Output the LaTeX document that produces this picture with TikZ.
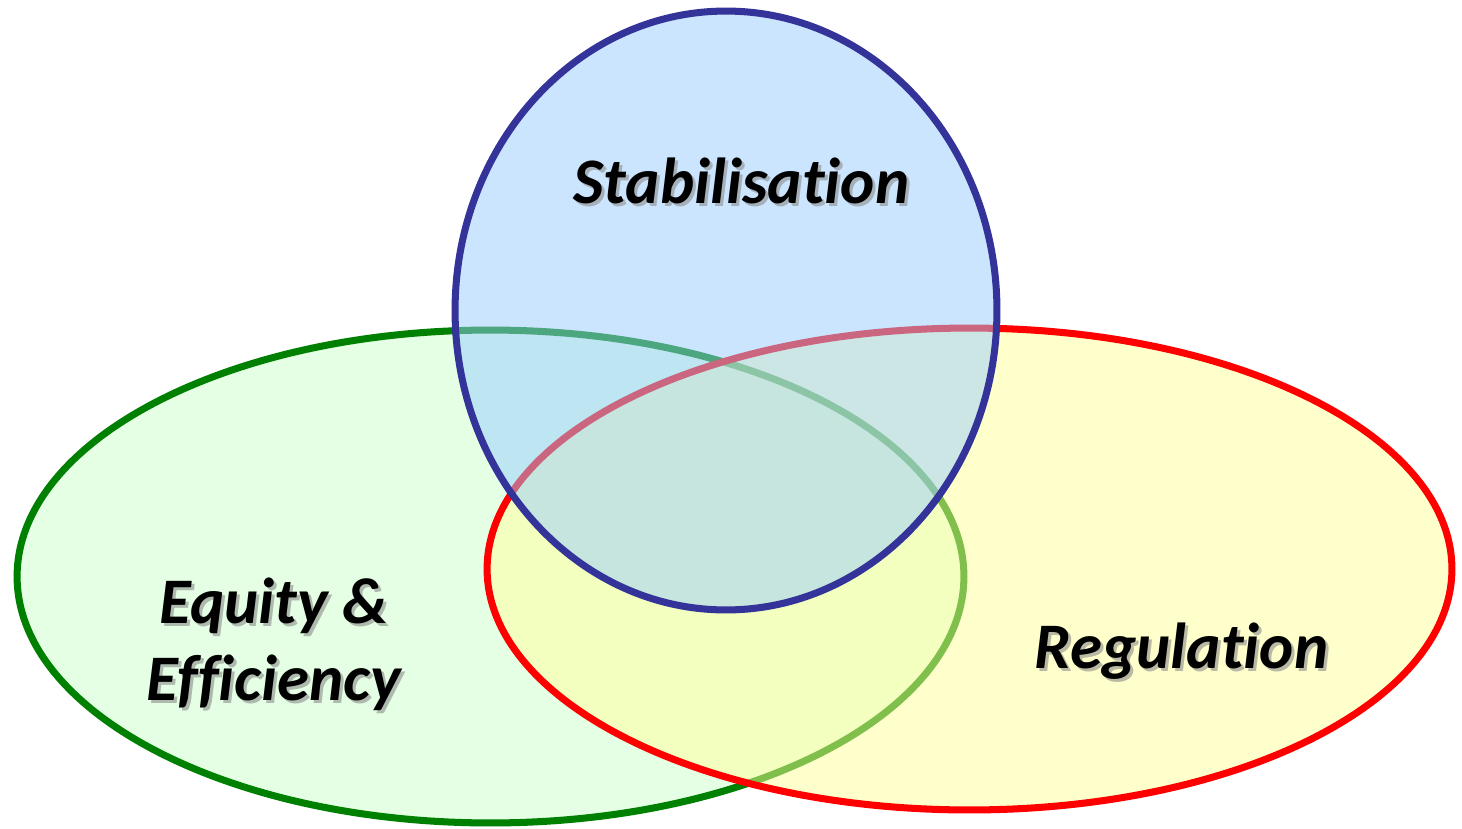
\documentclass[tikz,border=0pt]{standalone}
\usepackage{fontspec}
\newfontfamily\calib[Ligatures=NoCommon]{Carlito}
\usetikzlibrary{shapes,shapes.geometric,calc}
\definecolor{setgreen}{HTML}{E5FFE5}
\definecolor{setyellow}{HTML}{FFFF99}
\definecolor{setblue}{HTML}{99CCFF}
\definecolor{rimblue}{HTML}{333399}
\tikzset{
  setnode/.style = {ellipse, inner sep=0pt, line width=4pt},
  set_g/.style = {setnode, draw=green!50!black, fill=setgreen},
  set_r/.style = {setnode, draw=red, fill=setyellow, fill opacity=0.5},
  set_b/.style = {setnode, draw=rimblue, fill=setblue, fill opacity=0.5},
  lbl/.style = {align=center, inner sep=0pt, text=black,
    font=\calib\bfseries\itshape\fontsize{37}{44}\selectfont},
  lbl_s/.style = {lbl, text=black!45, opacity=0.6}
}

\begin{document}
\begin{tikzpicture}[x=0.02cm, y=-0.02cm]
\useasboundingbox (0,0) rectangle (1462,828);
% the three sets
\node [set_g, minimum width=18.94cm, minimum height=9.86cm] (equi) at (490.5,576.5) {};
\node [set_r, minimum width=19.3cm, minimum height=9.64cm] (regu) at (969.5,569) {};
\node [set_b, minimum width=10.84cm, minimum height=11.98cm] (stab) at (726,310.5) {};
% labels, shadow first
\node [lbl_s, anchor=base] (stab_s) at (744.5,206) {Stabilisation};
\node [lbl, anchor=base] (stab_t) at (741.5,203) {Stabilisation};
\node [lbl_s, anchor=base] (regu_s) at (1184.5,671) {Regulation};
\node [lbl, anchor=base] (regu_t) at (1181.5,668) {Regulation};
\node [lbl_s] (equi_s) at (277,647) {Equity \&\\Efficiency};
\node [lbl] (equi_t) at (274,644) {Equity \&\\Efficiency};
\end{tikzpicture}
\end{document}
